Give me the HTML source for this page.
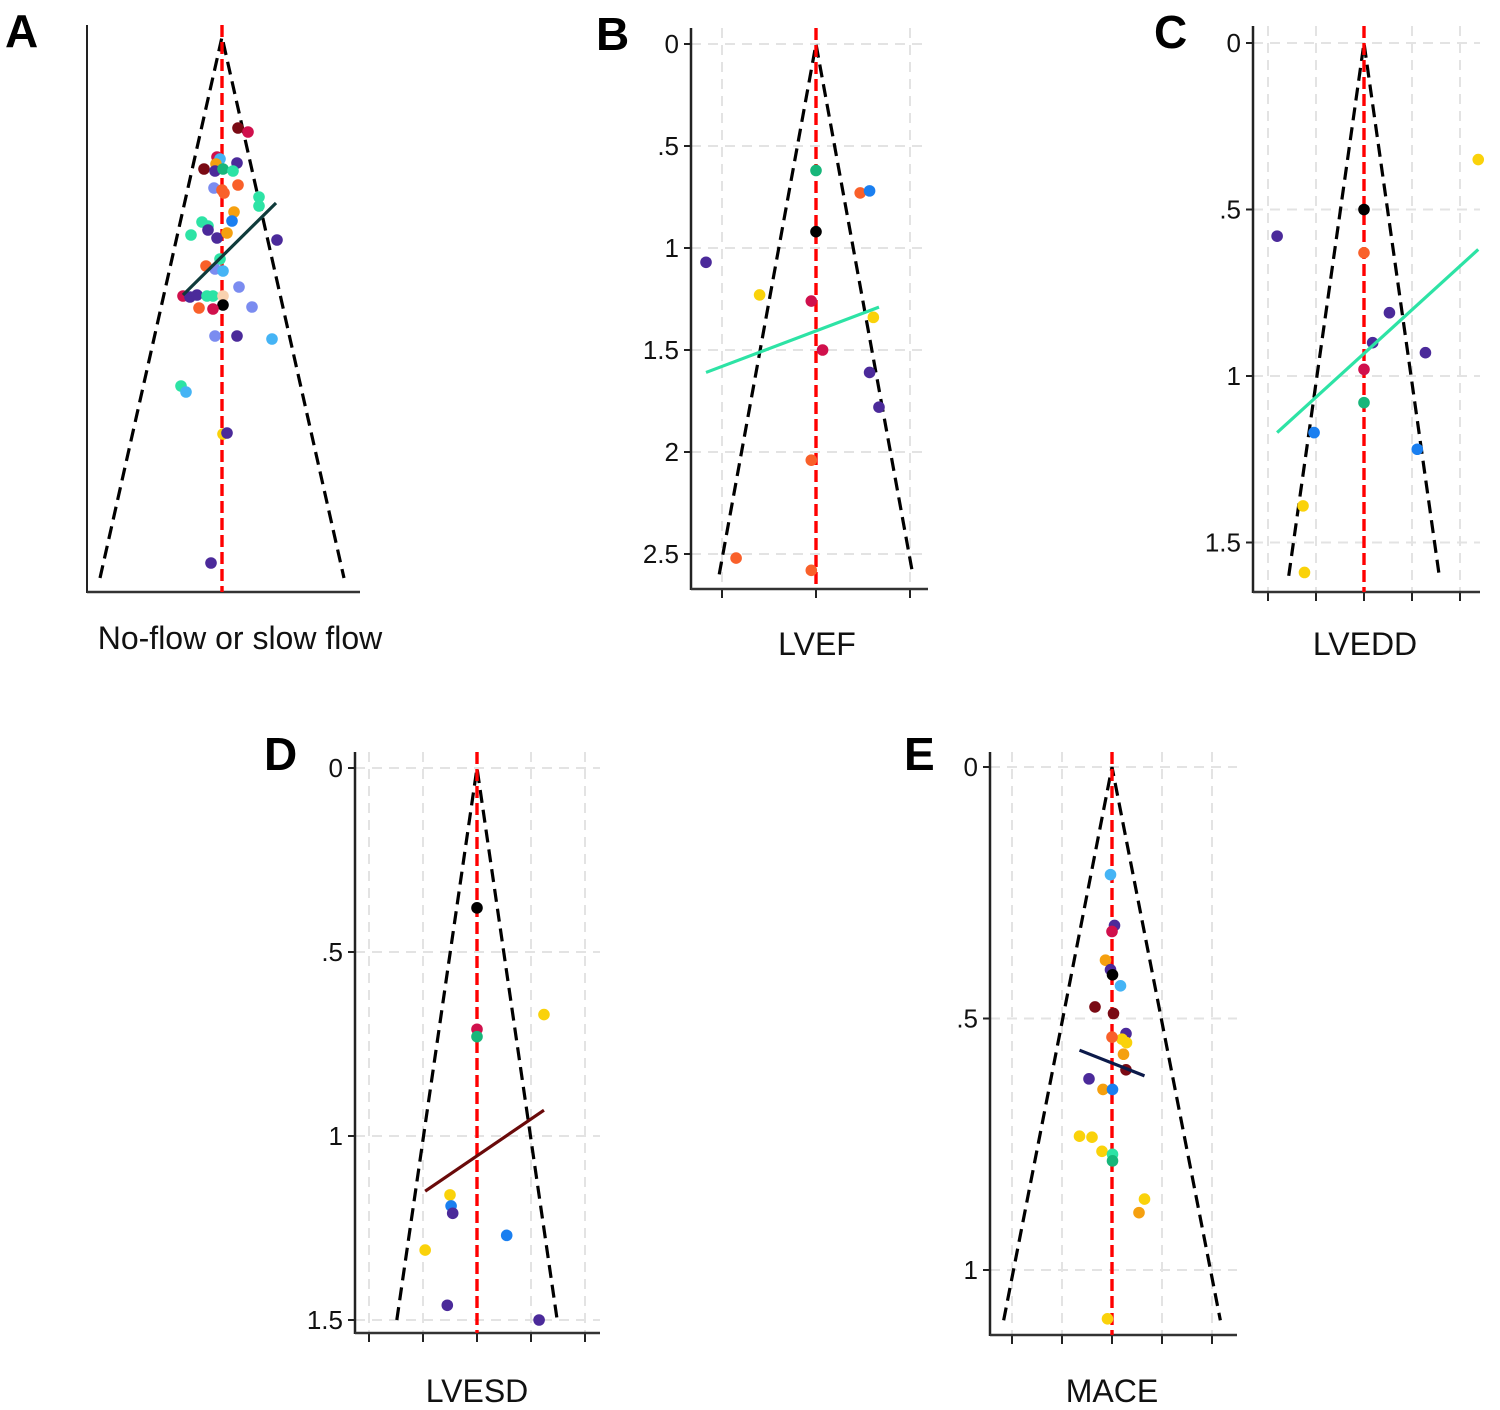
<!DOCTYPE html>
<html><head><meta charset="utf-8"><style>
html,body{margin:0;padding:0;background:#fff;}
svg{display:block;font-family:"Liberation Sans",Arial,sans-serif;}
</style></head><body>
<svg id="fig" width="1500" height="1410" viewBox="0 0 1500 1410" xmlns="http://www.w3.org/2000/svg">
<g font-weight="bold" font-size="46">
<text x="5" y="47">A</text>
<text x="596" y="50">B</text>
<text x="1154" y="48">C</text>
<text x="264" y="770">D</text>
<text x="904" y="770">E</text>
</g>
</svg>
<script>
const P='#4b2a9a',CR='#d0104c',MA='#7a0a14',OR='#f5a00f',OE='#f9602a',MI='#2de3a5',GR='#17b67a',LB='#45b4f5',BL='#1a7ff0',PW='#7b8cf0',YE='#fad20a',PE='#f9d2b0',BK='#000000';

// Panel A: No-flow or slow flow
const aEffect=[0.16,0.26,-0.05,-0.02,0.15,-0.06,-0.18,-0.07,0.01,0.11,-0.08,0,0.02,0.16,0.37,0.37,0.12,0.10,-0.20,-0.14,-0.14,-0.31,-0.05,0.05,0.55,-0.02,-0.16,-0.07,0.01,0.17,-0.39,-0.32,-0.25,-0.15,-0.09,0.01,0.01,-0.23,-0.09,0.30,-0.07,0.15,0.50,-0.41,-0.36,0.01,0.05,-0.11];
const aSE=[0.91,0.95,1.20,1.22,1.26,1.27,1.32,1.34,1.32,1.34,1.51,1.53,1.56,1.48,1.60,1.69,1.75,1.84,1.85,1.89,1.93,1.98,2.01,1.96,2.03,2.22,2.29,2.32,2.34,2.50,2.59,2.60,2.58,2.59,2.59,2.59,2.68,2.71,2.72,2.70,2.99,2.99,3.02,3.49,3.55,3.97,3.96,5.26];
const aColor=[MA,CR,CR,LB,P,OR,MA,P,GR,MI,PW,OE,OE,OE,MI,MI,OR,BL,MI,MI,P,MI,P,OR,P,MI,OE,PW,LB,PW,CR,P,P,MI,MI,PE,BK,OE,CR,PW,PW,P,LB,MI,LB,YE,P,P];
const aLineEffect=[-0.39,0.54];const aLineSE=[2.58,1.66];

// Panel B: LVEF
const bEffect=[-1.17,-0.60,0,0.47,0.57,0,-0.05,0.07,0.61,0.57,0.67,-0.05,-0.85,-0.05];
const bSE=[1.07,1.23,0.62,0.73,0.72,0.92,1.26,1.50,1.34,1.61,1.78,2.04,2.52,2.58];
const bColor=[P,YE,GR,OE,BL,BK,CR,CR,YE,P,P,OE,OE,OE];
const bLineEffect=[-1.17,0.67];const bLineSE=[1.61,1.29];
const bYTicks=[0,0.5,1,1.5,2,2.5];const bYTickLabels=['0','.5','1','1.5','2','2.5'];const bXTicks=[-1,0,1];

// Panel C: LVEDD
const cEffect=[2.38,-1.81,0,0,0.53,0.18,1.28,0,0,-1.04,1.11,-1.27,-1.24];
const cSE=[0.35,0.58,0.50,0.63,0.81,0.90,0.93,0.98,1.08,1.17,1.22,1.39,1.59];
const cColor=[YE,P,BK,OE,P,P,P,CR,GR,BL,BL,YE,YE];
const cLineEffect=[-1.81,2.38];const cLineSE=[1.17,0.62];
const cYTicks=[0,0.5,1,1.5];const cYTickLabels=['0','.5','1','1.5'];const cXTicks=[-2,-1,0,1,2];

// Panel D: LVESD
const dEffect=[0,0,0,1.24,-0.50,-0.48,-0.45,0.55,-0.96,-0.55,1.15];
const dSE=[0.38,0.71,0.73,0.67,1.16,1.19,1.21,1.27,1.31,1.46,1.50];
const dColor=[BK,CR,GR,YE,YE,BL,P,BL,YE,P,P];
const dLineEffect=[-0.96,1.24];const dLineSE=[1.15,0.93];
const dYTicks=[0,0.5,1,1.5];const dYTickLabels=['0','.5','1','1.5'];const dXTicks=[-2,-1,0,1,2];

// Panel E: MACE
const eEffect=[-0.03,0.05,0,-0.13,-0.03,0.01,0.17,-0.34,0.03,0.28,0.20,0.29,0,0.23,0.28,-0.46,-0.18,0.01,-0.65,-0.40,-0.20,0.01,0.01,0.65,0.54,-0.09];
const eSE=[0.214,0.315,0.327,0.384,0.403,0.413,0.435,0.477,0.490,0.530,0.541,0.548,0.537,0.571,0.602,0.620,0.641,0.641,0.734,0.736,0.764,0.770,0.783,0.859,0.886,1.097];
const eColor=[LB,P,CR,OR,P,BK,LB,MA,MA,P,YE,YE,OE,OR,MA,P,OR,BL,YE,YE,YE,MI,GR,YE,OR,YE];
const eLineEffect=[-0.65,0.65];const eLineSE=[0.563,0.614];
const eYTicks=[0,0.5,1];const eYTickLabels=['0','.5','1'];const eXTicks=[-2,-1,0,1,2];

const NS='http://www.w3.org/2000/svg';
const svg=document.getElementById('fig');
function mk(tag,attrs,parent){const e=document.createElementNS(NS,tag);for(const k in attrs)e.setAttribute(k,attrs[k]);parent.appendChild(e);return e;}

function panel(cfg){
  const g=mk('g',{},svg);
  
  
  const X=u=>cfg.cx+u*cfg.ux, Y=s=>cfg.y0+s*cfg.uy;
  const top=cfg.top,bot=cfg.bottom,left=cfg.left,right=cfg.right;
  if(cfg.yTicks){
    cfg.yTicks.forEach((t,i)=>{
      const l=mk('line',{x1:left,x2:right,y1:Y(t),y2:Y(t),stroke:'#e3e3e3','stroke-width':2,'stroke-dasharray':'10 7'},g);
      
      
      const tk=mk('line',{x1:left-7,x2:left,y1:Y(t),y2:Y(t),stroke:'#222','stroke-width':2},g);
      
      
      const tx=mk('text',{x:left-12,y:Y(t)+9,'text-anchor':'end','font-size':26,fill:'#111'},g);
      tx.textContent=cfg.yTickLabels[i];
      
      
    });
    cfg.xTicks.forEach(t=>{
      const l=mk('line',{x1:X(t),x2:X(t),y1:top,y2:bot,stroke:'#e3e3e3','stroke-width':2,'stroke-dasharray':'10 7'},g);
      
      
      const tk=mk('line',{x1:X(t),x2:X(t),y1:bot,y2:bot+9,stroke:'#222','stroke-width':2},g);
      
      
    });
  }
  const ya=mk('line',{x1:left,x2:left,y1:top,y2:bot+1,stroke:'#222','stroke-width':cfg.axisW||2.5},g);
  
  
  const xa=mk('line',{x1:left,x2:right,y1:bot,y2:bot,stroke:'#333','stroke-width':2.5},g);
  
  
  const fb=cfg.funnelSE;
  const fn=mk('polyline',{points:`${X(-cfg.k*fb)},${Y(fb)} ${X(0)},${Y(0)} ${X(cfg.k*fb)},${Y(fb)}`,fill:'none',stroke:'#000','stroke-width':3.2,'stroke-dasharray':'13 7'},g);
  
  
  const rl=mk('line',{x1:X(0),x2:X(0),y1:top,y2:bot,stroke:'#ff0000','stroke-width':3.4,'stroke-dasharray':'12 5'},g);
  
  
  cfg.eff.forEach((u,i)=>{
    const c=mk('circle',{cx:X(u),cy:Y(cfg.se[i]),r:5.8,fill:cfg.col[i]},g);
    
    
  });
  const rg=mk('line',{x1:X(cfg.le[0]),y1:Y(cfg.ls[0]),x2:X(cfg.le[1]),y2:Y(cfg.ls[1]),stroke:cfg.lineColor,'stroke-width':3.2},g);
  
  
  const tt=mk('text',{x:cfg.titleX,y:cfg.titleY,'text-anchor':'middle','font-size':32,fill:'#111'},g);
  tt.textContent=cfg.title;
  
  
}

panel({name:'panel-a-no-flow',cx:222,ux:100,y0:37,uy:100,top:25,bottom:592,left:87,right:360,k:0.2255,funnelSE:5.41,
  eff:aEffect,se:aSE,col:aColor,le:aLineEffect,ls:aLineSE,lineColor:'#0f3b3b',title:'No-flow or slow flow',titleX:240,titleY:649,axisW:2});
panel({name:'panel-b-lvef',cx:816,ux:94,y0:44,uy:204,top:28,bottom:589,left:691,right:928,k:0.396,funnelSE:2.6,
  eff:bEffect,se:bSE,col:bColor,le:bLineEffect,ls:bLineSE,lineColor:'#2de3a5',yTicks:bYTicks,yTickLabels:bYTickLabels,xTicks:bXTicks,title:'LVEF',titleX:817,titleY:655});
panel({name:'panel-c-lvedd',cx:1364,ux:48,y0:43,uy:333,top:26,bottom:592,left:1253,right:1480,k:0.98,funnelSE:1.6,
  eff:cEffect,se:cSE,col:cColor,le:cLineEffect,ls:cLineSE,lineColor:'#2de3a5',yTicks:cYTicks,yTickLabels:cYTickLabels,xTicks:cXTicks,title:'LVEDD',titleX:1365,titleY:655});
panel({name:'panel-d-lvesd',cx:477,ux:54,y0:768,uy:368,top:752,bottom:1333,left:355,right:600,k:0.99,funnelSE:1.5,
  eff:dEffect,se:dSE,col:dColor,le:dLineEffect,ls:dLineSE,lineColor:'#6a0a0a',yTicks:dYTicks,yTickLabels:dYTickLabels,xTicks:dXTicks,title:'LVESD',titleX:477,titleY:1402});
panel({name:'panel-e-mace',cx:1112,ux:50,y0:767,uy:503,top:752,bottom:1335,left:990,right:1237,k:1.97,funnelSE:1.10,
  eff:eEffect,se:eSE,col:eColor,le:eLineEffect,ls:eLineSE,lineColor:'#0c1a4a',yTicks:eYTicks,yTickLabels:eYTickLabels,xTicks:eXTicks,title:'MACE',titleX:1112,titleY:1402});
</script>
</body></html>
